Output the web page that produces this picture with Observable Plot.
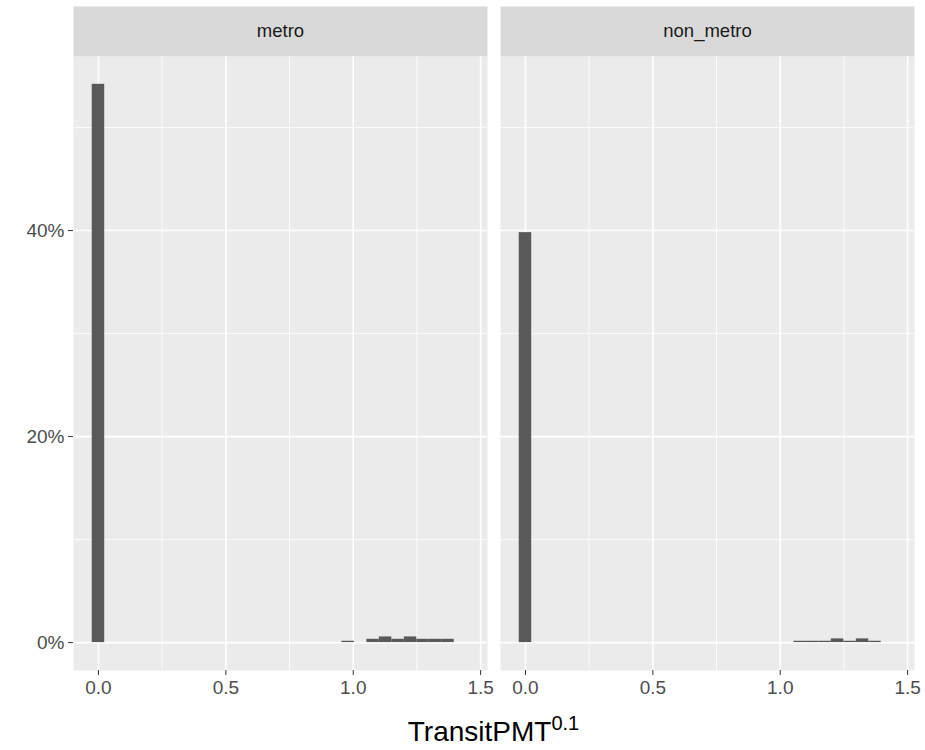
<!DOCTYPE html>
<html>
<head>
<meta charset="utf-8">
<script src="https://cdn.jsdelivr.net/npm/d3@7"></script>
<script src="https://cdn.jsdelivr.net/npm/@observablehq/plot@0.6"></script>
<style>
  html, body { margin: 0; padding: 0; background: #ffffff; }
  #wrap { position: relative; width: 925px; height: 750px; font-family: "Liberation Sans", Arial, Helvetica, sans-serif; }
  #xtitle { position: absolute; left: 73px; width: 841px; top: 716px; text-align: center; font-size: 28px; line-height: 32px; color: #000; }
  #xtitle sup { font-size: 20px; line-height: 0; vertical-align: 0.55em; }
</style>
</head>
<body>
<div id="wrap">
  <div id="chart"></div>
  <div id="xtitle">TransitPMT<sup>0.1</sup></div>
</div>
<script>
// ---- data ----
const regions = ["metro", "non_metro"];
const binWidth = 0.049;
const metroCenters = [0, 0.98, 1.078, 1.127, 1.176, 1.225, 1.274, 1.323, 1.372];
const metroPct     = [54.2, 0.13, 0.32, 0.55, 0.32, 0.55, 0.32, 0.32, 0.32];
const nonMetroCenters = [0, 1.078, 1.127, 1.176, 1.225, 1.274, 1.323, 1.372];
const nonMetroPct     = [39.8, 0.13, 0.13, 0.13, 0.36, 0.13, 0.36, 0.13];
const xTicks = [0, 0.5, 1.0, 1.5];
const xMinor = [0.25, 0.75, 1.25];
const yTicks = [0, 20, 40];
const yMinor = [10, 30, 50];

const bars = [
  ...metroCenters.map((c, i) => ({region: regions[0], center: c, pct: metroPct[i]})),
  ...nonMetroCenters.map((c, i) => ({region: regions[1], center: c, pct: nonMetroPct[i]}))
];

const FONT = "Liberation Sans, Arial, Helvetica, sans-serif";

const plot = Plot.plot({
  width: 925,
  height: 705,
  marginTop: 56,
  marginBottom: 35,
  marginLeft: 73,
  marginRight: 11,
  style: {fontFamily: FONT, background: "#ffffff", overflow: "visible"},
  fx: {domain: regions, paddingInner: 13 / 427, paddingOuter: 0, axis: null, label: null},
  x: {domain: [-0.098, 1.527], axis: null},
  y: {domain: [-2.71, 56.9], axis: null},
  marks: [
    // panel background
    Plot.frame({fill: "#ebebeb"}),
    // strip background
    Plot.frame({fill: "#d9d9d9", insetTop: -50, insetBottom: 614}),
    // grid
    Plot.ruleX(xMinor, {stroke: "#ffffff", strokeWidth: 0.8}),
    Plot.ruleY(yMinor, {stroke: "#ffffff", strokeWidth: 0.8}),
    Plot.ruleX(xTicks, {stroke: "#ffffff", strokeWidth: 1.6}),
    Plot.ruleY(yTicks, {stroke: "#ffffff", strokeWidth: 1.6}),
    // histogram bars
    Plot.rect(bars, {
      fx: "region",
      x1: d => d.center - binWidth / 2,
      x2: d => d.center + binWidth / 2,
      y1: 0,
      y2: "pct",
      fill: "#595959"
    }),
    // strip labels
    Plot.text(regions, {fx: d => d, text: d => d, frameAnchor: "top", lineAnchor: "middle", dy: -25, fontSize: 18.5, fill: "#1a1a1a"}),
    // axes
    Plot.axisY({ticks: yTicks, tickSize: 5, tickPadding: 4, tickFormat: d => `${d}%`, fontSize: 19, color: "#4d4d4d", stroke: "#333333", label: null}),
    Plot.axisX({ticks: xTicks, tickSize: 5, tickPadding: 5, tickFormat: d => d.toFixed(1), fontSize: 19, color: "#4d4d4d", stroke: "#333333", label: null})
  ]
});

document.getElementById("chart").appendChild(plot);
</script>
</body>
</html>
